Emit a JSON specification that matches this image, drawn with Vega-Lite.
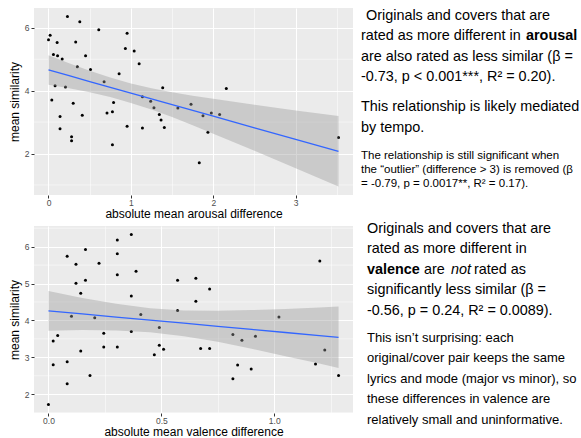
{
  "$schema": "https://vega.github.io/schema/vega-lite/v6.json",
  "padding": {"left": 8, "top": 7, "right": 0, "bottom": 0},
  "background": "white",
  "columns": 2,
  "spacing": {"row": 0, "column": 7},
  "config": {
    "font": "Liberation Sans",
    "view": {"stroke": null},
    "text": {"font": "Liberation Sans", "color": "black"}
  },
  "datasets": {
    "arousal": [
      {"diff": 0, "sim": 5.62}, {"diff": 0.02, "sim": 5.76}, {"diff": 0.23, "sim": 6.36}, {"diff": 0.38, "sim": 6.19},
      {"diff": 0.105, "sim": 5.53}, {"diff": 0.33, "sim": 5.55}, {"diff": 0.06, "sim": 5.15}, {"diff": 0.11, "sim": 5.11},
      {"diff": 0.166, "sim": 5.01}, {"diff": 0.45, "sim": 5.11}, {"diff": 0.61, "sim": 5.94}, {"diff": 0.954, "sim": 5.83},
      {"diff": 0.933, "sim": 5.34}, {"diff": 1.04, "sim": 5.26}, {"diff": 1.10, "sim": 4.86}, {"diff": 0.35, "sim": 4.76},
      {"diff": 0.51, "sim": 4.67}, {"diff": 0.857, "sim": 4.54}, {"diff": 0.675, "sim": 4.28}, {"diff": 0.08, "sim": 4.16},
      {"diff": 0.206, "sim": 4.12}, {"diff": 0.04, "sim": 3.70}, {"diff": 0.30, "sim": 3.60}, {"diff": 0.79, "sim": 3.62},
      {"diff": 0.71, "sim": 3.29}, {"diff": 0.776, "sim": 3.33}, {"diff": 0.41, "sim": 3.22}, {"diff": 0.14, "sim": 3.18},
      {"diff": 0.14, "sim": 2.79}, {"diff": 0.28, "sim": 2.53}, {"diff": 0.28, "sim": 2.41}, {"diff": 0.776, "sim": 2.28},
      {"diff": 0.954, "sim": 2.87}, {"diff": 1.386, "sim": 4.09}, {"diff": 1.14, "sim": 3.81}, {"diff": 1.24, "sim": 3.66},
      {"diff": 1.28, "sim": 3.46}, {"diff": 1.345, "sim": 3.24}, {"diff": 1.366, "sim": 3.07}, {"diff": 1.406, "sim": 2.83},
      {"diff": 1.14, "sim": 2.81}, {"diff": 1.57, "sim": 3.45}, {"diff": 1.73, "sim": 3.57}, {"diff": 1.875, "sim": 3.20},
      {"diff": 1.976, "sim": 3.29}, {"diff": 2.077, "sim": 3.24}, {"diff": 2.158, "sim": 4.07}, {"diff": 1.935, "sim": 2.68},
      {"diff": 1.83, "sim": 1.71}, {"diff": 3.52, "sim": 2.51}
    ],
    "ribbonA": [
      {"x": 0, "lo": 4.19, "hi": 5.13, "fit": 4.66},
      {"x": 0.25, "lo": 4.08, "hi": 4.87, "fit": 4.476},
      {"x": 0.5, "lo": 3.95, "hi": 4.63, "fit": 4.29},
      {"x": 0.75, "lo": 3.80, "hi": 4.42, "fit": 4.107},
      {"x": 1.0, "lo": 3.61, "hi": 4.23, "fit": 3.923},
      {"x": 1.25, "lo": 3.40, "hi": 4.08, "fit": 3.739},
      {"x": 1.5, "lo": 3.16, "hi": 3.95, "fit": 3.554},
      {"x": 1.75, "lo": 2.90, "hi": 3.84, "fit": 3.37},
      {"x": 2.0, "lo": 2.63, "hi": 3.74, "fit": 3.186},
      {"x": 2.5, "lo": 2.09, "hi": 3.55, "fit": 2.817},
      {"x": 3.0, "lo": 1.53, "hi": 3.37, "fit": 2.449},
      {"x": 3.52, "lo": 0.95, "hi": 3.19, "fit": 2.066}
    ],
    "minorA": [{"v": 1}, {"v": 3}, {"v": 5}],
    "valence": [
      {"diff": 0, "sim": 1.72}, {"diff": 0.021, "sim": 3.44}, {"diff": 0.041, "sim": 3.59}, {"diff": 0.021, "sim": 2.80},
      {"diff": 0.083, "sim": 5.74}, {"diff": 0.083, "sim": 2.88}, {"diff": 0.083, "sim": 2.28}, {"diff": 0.102, "sim": 4.11},
      {"diff": 0.122, "sim": 5.52}, {"diff": 0.122, "sim": 5.01}, {"diff": 0.143, "sim": 4.74}, {"diff": 0.143, "sim": 3.17},
      {"diff": 0.164, "sim": 5.92}, {"diff": 0.164, "sim": 5.09}, {"diff": 0.184, "sim": 2.51}, {"diff": 0.205, "sim": 4.07},
      {"diff": 0.224, "sim": 5.55}, {"diff": 0.245, "sim": 3.65}, {"diff": 0.245, "sim": 3.28}, {"diff": 0.305, "sim": 6.18},
      {"diff": 0.305, "sim": 5.81}, {"diff": 0.305, "sim": 5.24}, {"diff": 0.305, "sim": 3.28}, {"diff": 0.367, "sim": 6.33},
      {"diff": 0.367, "sim": 4.66}, {"diff": 0.367, "sim": 3.70}, {"diff": 0.388, "sim": 5.33}, {"diff": 0.409, "sim": 4.16},
      {"diff": 0.469, "sim": 3.07}, {"diff": 0.491, "sim": 3.81}, {"diff": 0.491, "sim": 3.33}, {"diff": 0.510, "sim": 3.22},
      {"diff": 0.572, "sim": 5.09}, {"diff": 0.572, "sim": 4.27}, {"diff": 0.653, "sim": 5.14}, {"diff": 0.653, "sim": 4.52},
      {"diff": 0.674, "sim": 3.24}, {"diff": 0.714, "sim": 4.85}, {"diff": 0.714, "sim": 3.24}, {"diff": 0.817, "sim": 3.62},
      {"diff": 0.817, "sim": 2.42}, {"diff": 0.838, "sim": 2.79}, {"diff": 0.857, "sim": 3.46}, {"diff": 0.898, "sim": 2.68},
      {"diff": 0.917, "sim": 3.57}, {"diff": 1.021, "sim": 4.09}, {"diff": 1.183, "sim": 2.82}, {"diff": 1.202, "sim": 5.61},
      {"diff": 1.224, "sim": 3.20}, {"diff": 1.285, "sim": 2.51}
    ],
    "ribbonV": [
      {"x": 0, "lo": 3.72, "hi": 4.80, "fit": 4.26},
      {"x": 0.15, "lo": 3.74, "hi": 4.61, "fit": 4.176},
      {"x": 0.3, "lo": 3.73, "hi": 4.45, "fit": 4.092},
      {"x": 0.45, "lo": 3.68, "hi": 4.33, "fit": 4.008},
      {"x": 0.6, "lo": 3.57, "hi": 4.27, "fit": 3.924},
      {"x": 0.75, "lo": 3.42, "hi": 4.26, "fit": 3.84},
      {"x": 0.9, "lo": 3.23, "hi": 4.28, "fit": 3.756},
      {"x": 1.05, "lo": 3.03, "hi": 4.31, "fit": 3.672},
      {"x": 1.2, "lo": 2.83, "hi": 4.35, "fit": 3.588},
      {"x": 1.285, "lo": 2.71, "hi": 4.38, "fit": 3.54}
    ],
    "minorV": [{"v": 1.5}, {"v": 2.5}, {"v": 3.5}, {"v": 4.5}, {"v": 5.5}, {"v": 6.5}],
    "topFirst": [{"line": 1, "text": "Originals and covers that are"}],
    "topMain": [
      {"line": 2, "text": "rated as more different in"},
      {"line": 3, "text": "are also rated as less similar (β ="},
      {"line": 4, "text": "-0.73, p < 0.001***, R² = 0.20)."},
      {"line": 5.5, "text": "This relationship is likely mediated"},
      {"line": 6.5, "text": "by tempo."}
    ],
    "topBold": [{"line": 2, "text": "arousal"}],
    "topSmall": [
      {"line": 7.9, "text": "The relationship is still significant when"},
      {"line": 8.6, "text": "the “outlier” (difference > 3) is removed (β"},
      {"line": 9.3, "text": "= -0.79, p = 0.0017**, R² = 0.17)."}
    ],
    "botMain": [
      {"line": 1, "text": "Originals and covers that are"},
      {"line": 2, "text": "rated as more different in"},
      {"line": 4, "text": "significantly less similar (β ="},
      {"line": 5, "text": "-0.56, p = 0.24, R² = 0.0089)."}
    ],
    "botBold": [{"line": 3, "text": "valence"}],
    "botAre": [{"line": 3, "text": "are"}],
    "botNot": [{"line": 3, "text": "not"}],
    "botRated": [{"line": 3, "text": "rated as"}],
    "botSmall": [
      {"line": 6.3, "text": "This isn’t surprising: each"},
      {"line": 7.3, "text": "original/cover pair keeps the same"},
      {"line": 8.3, "text": "lyrics and mode (major vs minor), so"},
      {"line": 9.3, "text": "these differences in valence are"},
      {"line": 10.3, "text": "relatively small and uninformative."}
    ]
  },
  "concat": [
    {
      "width": 319,
      "height": 187,
      "view": {"fill": "#EBEBEB", "stroke": null},
      "layer": [
        {
          "data": {"name": "minorA"},
          "mark": {"type": "rule", "color": "#FFFFFF", "strokeWidth": 0.5},
          "encoding": {
            "y": {"field": "v", "type": "quantitative", "scale": {"domain": [0.68, 6.63], "nice": false, "zero": false}}
          }
        },
        {
          "data": {"name": "arousal"},
          "mark": {"type": "point", "filled": true, "color": "black", "size": 9, "opacity": 1},
          "encoding": {
            "x": {
              "field": "diff", "type": "quantitative",
              "scale": {"domain": [-0.176, 3.696], "nice": false, "zero": false},
              "axis": {
                "title": "absolute mean arousal difference",
                "values": [0, 0.5, 1, 1.5, 2, 2.5, 3, 3.5],
                "labelExpr": "datum.value % 1 === 0 ? format(datum.value, 'd') : ''",
                "domain": false,
                "grid": true,
                "gridColor": "#FFFFFF",
                "gridOpacity": 1,
                "gridWidth": {"condition": {"test": "datum.value % 1 === 0", "value": 1.1}, "value": 0.5},
                "ticks": true,
                "tickColor": "#333333",
                "tickSize": 3,
                "tickOpacity": {"condition": {"test": "datum.value % 1 === 0", "value": 1}, "value": 0},
                "labelFont": "Liberation Sans",
                "labelFontSize": 8.5,
                "labelColor": "#4D4D4D",
                "labelPadding": 0,
                "labelOverlap": false,
                "labelFlush": false,
                "titleFont": "Liberation Sans",
                "titleFontSize": 12,
                "titleFontWeight": "normal",
                "titleColor": "#000000",
                "titlePadding": 2
              }
            },
            "y": {
              "field": "sim", "type": "quantitative",
              "scale": {"domain": [0.68, 6.63], "nice": false, "zero": false},
              "axis": {
                "title": "mean similarity",
                "tickCount": 3,
                "domain": false,
                "grid": true,
                "gridColor": "#FFFFFF",
                "gridWidth": 1.1,
                "tickColor": "#333333",
                "tickSize": 3,
                "labelFont": "Liberation Sans",
                "labelFontSize": 8.5,
                "labelColor": "#4D4D4D",
                "labelPadding": 2,
                "titleFont": "Liberation Sans",
                "titleFontSize": 12,
                "titleFontWeight": "normal",
                "titleColor": "#000000",
                "titlePadding": 3
              }
            }
          }
        },
        {
          "data": {"name": "ribbonA"},
          "mark": {"type": "area", "color": "#999999", "opacity": 0.4},
          "encoding": {
            "x": {"field": "x", "type": "quantitative"},
            "y": {"field": "lo", "type": "quantitative"},
            "y2": {"field": "hi"}
          }
        },
        {
          "data": {"name": "ribbonA"},
          "mark": {"type": "line", "color": "#3366FF", "strokeWidth": 1.3},
          "encoding": {
            "x": {"field": "x", "type": "quantitative"},
            "y": {"field": "fit", "type": "quantitative"}
          }
        }
      ]
    },
    {
      "width": 221,
      "height": 187,
      "layer": [
        {
          "data": {"name": "topMain"},
          "mark": {"type": "text", "align": "left", "baseline": "middle", "fontSize": 14.4},
          "encoding": {
            "x": {"value": 0},
            "y": {"field": "line", "type": "quantitative", "scale": {"domain": [0.606, 9.818], "reverse": true, "nice": false, "zero": false}, "axis": null},
            "text": {"field": "text"}
          }
        },
        {
          "data": {"name": "topFirst"},
          "mark": {"type": "text", "align": "left", "baseline": "middle", "fontSize": 14.4, "dx": 5},
          "encoding": {
            "x": {"value": 0},
            "y": {"field": "line", "type": "quantitative", "axis": null},
            "text": {"field": "text"}
          }
        },
        {
          "data": {"name": "topBold"},
          "mark": {"type": "text", "align": "left", "baseline": "middle", "fontSize": 14.4, "fontWeight": "bold", "dx": 165},
          "encoding": {
            "x": {"value": 0},
            "y": {"field": "line", "type": "quantitative", "axis": null},
            "text": {"field": "text"}
          }
        },
        {
          "data": {"name": "topSmall"},
          "mark": {"type": "text", "align": "left", "baseline": "middle", "fontSize": 11.5},
          "encoding": {
            "x": {"value": 0},
            "y": {"field": "line", "type": "quantitative", "axis": null},
            "text": {"field": "text"}
          }
        }
      ]
    },
    {
      "width": 319,
      "height": 187,
      "view": {"fill": "#EBEBEB", "stroke": null},
      "layer": [
        {
          "data": {"name": "minorV"},
          "mark": {"type": "rule", "color": "#FFFFFF", "strokeWidth": 0.5},
          "encoding": {
            "y": {"field": "v", "type": "quantitative", "scale": {"domain": [1.49, 6.56], "nice": false, "zero": false}}
          }
        },
        {
          "data": {"name": "valence"},
          "mark": {"type": "point", "filled": true, "color": "black", "size": 9, "opacity": 1},
          "encoding": {
            "x": {
              "field": "diff", "type": "quantitative",
              "scale": {"domain": [-0.064, 1.349], "nice": false, "zero": false},
              "axis": {
                "title": "absolute mean valence difference",
                "values": [0, 0.25, 0.5, 0.75, 1, 1.25],
                "labelExpr": "round(datum.value * 4) % 2 === 0 ? format(datum.value, '.1f') : ''",
                "domain": false,
                "grid": true,
                "gridColor": "#FFFFFF",
                "gridOpacity": 1,
                "gridWidth": {"condition": {"test": "round(datum.value * 4) % 2 === 0", "value": 1.1}, "value": 0.5},
                "ticks": true,
                "tickColor": "#333333",
                "tickSize": 3,
                "tickOpacity": {"condition": {"test": "round(datum.value * 4) % 2 === 0", "value": 1}, "value": 0},
                "labelFont": "Liberation Sans",
                "labelFontSize": 8.5,
                "labelColor": "#4D4D4D",
                "labelPadding": 0,
                "labelOverlap": false,
                "labelFlush": false,
                "titleFont": "Liberation Sans",
                "titleFontSize": 12,
                "titleFontWeight": "normal",
                "titleColor": "#000000",
                "titlePadding": 2
              }
            },
            "y": {
              "field": "sim", "type": "quantitative",
              "scale": {"domain": [1.49, 6.56], "nice": false, "zero": false},
              "axis": {
                "title": "mean similarity",
                "tickCount": 5,
                "domain": false,
                "grid": true,
                "gridColor": "#FFFFFF",
                "gridWidth": 1.1,
                "tickColor": "#333333",
                "tickSize": 3,
                "labelFont": "Liberation Sans",
                "labelFontSize": 8.5,
                "labelColor": "#4D4D4D",
                "labelPadding": 2,
                "titleFont": "Liberation Sans",
                "titleFontSize": 12,
                "titleFontWeight": "normal",
                "titleColor": "#000000",
                "titlePadding": 3
              }
            }
          }
        },
        {
          "data": {"name": "ribbonV"},
          "mark": {"type": "area", "color": "#999999", "opacity": 0.4},
          "encoding": {
            "x": {"field": "x", "type": "quantitative"},
            "y": {"field": "lo", "type": "quantitative"},
            "y2": {"field": "hi"}
          }
        },
        {
          "data": {"name": "ribbonV"},
          "mark": {"type": "line", "color": "#3366FF", "strokeWidth": 1.3},
          "encoding": {
            "x": {"field": "x", "type": "quantitative"},
            "y": {"field": "fit", "type": "quantitative"}
          }
        }
      ]
    },
    {
      "width": 221,
      "height": 187,
      "layer": [
        {
          "data": {"name": "botMain"},
          "mark": {"type": "text", "align": "left", "baseline": "middle", "fontSize": 14.4, "dx": 6},
          "encoding": {
            "x": {"value": 0},
            "y": {"field": "line", "type": "quantitative", "scale": {"domain": [0.854, 9.976], "reverse": true, "nice": false, "zero": false}, "axis": null},
            "text": {"field": "text"}
          }
        },
        {
          "data": {"name": "botBold"},
          "mark": {"type": "text", "align": "left", "baseline": "middle", "fontSize": 14.4, "fontWeight": "bold", "dx": 6},
          "encoding": {
            "x": {"value": 0},
            "y": {"field": "line", "type": "quantitative", "axis": null},
            "text": {"field": "text"}
          }
        },
        {
          "data": {"name": "botAre"},
          "mark": {"type": "text", "align": "left", "baseline": "middle", "fontSize": 14.4, "dx": 63},
          "encoding": {
            "x": {"value": 0},
            "y": {"field": "line", "type": "quantitative", "axis": null},
            "text": {"field": "text"}
          }
        },
        {
          "data": {"name": "botNot"},
          "mark": {"type": "text", "align": "left", "baseline": "middle", "fontSize": 14.4, "fontStyle": "italic", "dx": 90},
          "encoding": {
            "x": {"value": 0},
            "y": {"field": "line", "type": "quantitative", "axis": null},
            "text": {"field": "text"}
          }
        },
        {
          "data": {"name": "botRated"},
          "mark": {"type": "text", "align": "left", "baseline": "middle", "fontSize": 14.4, "dx": 113},
          "encoding": {
            "x": {"value": 0},
            "y": {"field": "line", "type": "quantitative", "axis": null},
            "text": {"field": "text"}
          }
        },
        {
          "data": {"name": "botSmall"},
          "mark": {"type": "text", "align": "left", "baseline": "middle", "fontSize": 13, "dx": 6},
          "encoding": {
            "x": {"value": 0},
            "y": {"field": "line", "type": "quantitative", "axis": null},
            "text": {"field": "text"}
          }
        }
      ]
    }
  ]
}
